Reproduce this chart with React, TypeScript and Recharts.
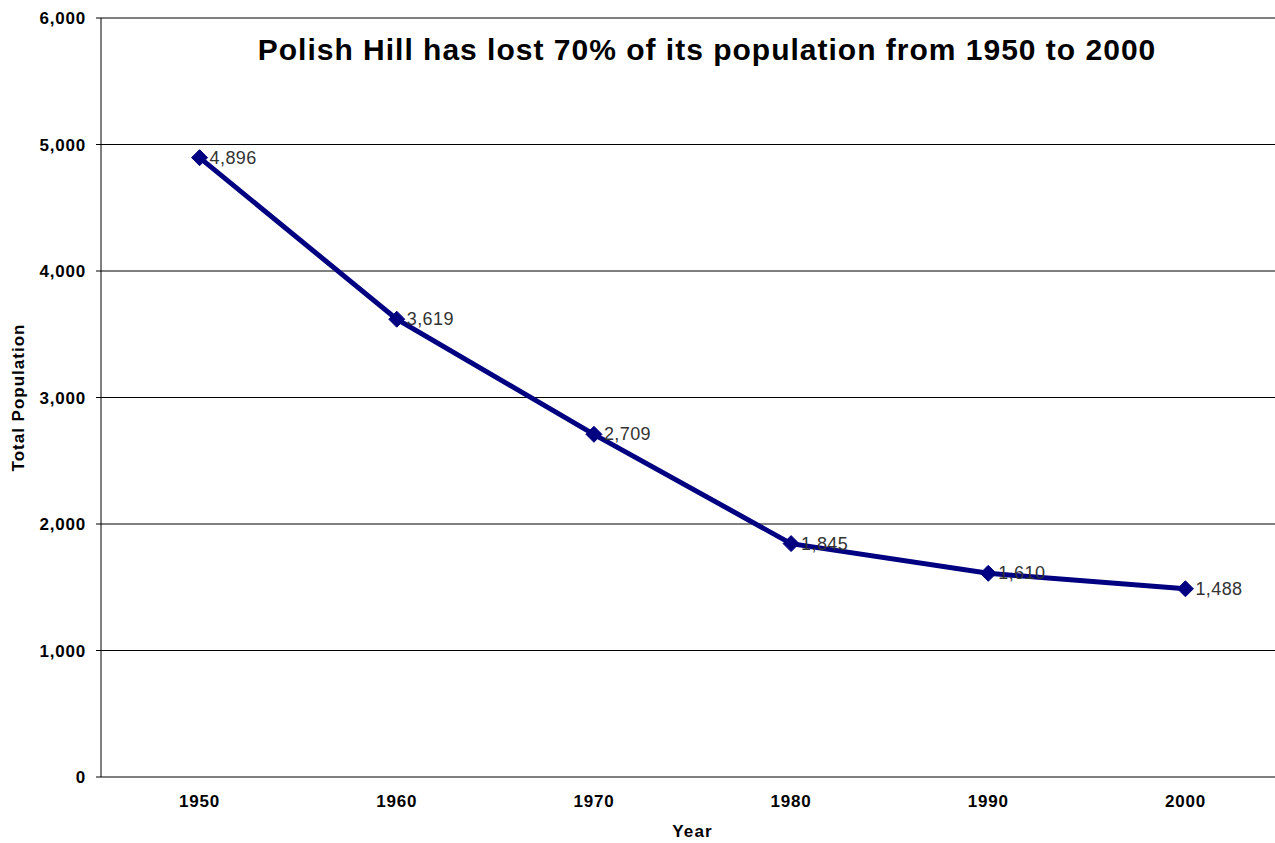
import React from 'react';
import {
  LineChart,
  Line,
  XAxis,
  YAxis,
  CartesianGrid,
  LabelList,
} from 'recharts';

const years = [1950, 1960, 1970, 1980, 1990, 2000];
const population = [4896, 3619, 2709, 1845, 1610, 1488];
const yTicks = [0, 1000, 2000, 3000, 4000, 5000, 6000];
const boundaryTicks = [1945, 1955, 1965, 1975, 1985, 1995, 2005];

const chartData = years.map((year, i) => ({ year, population: population[i] }));

const FONT = 'Arial, "Liberation Sans", sans-serif';
const NAVY = '#000080';

const axisTickStyle = {
  fontFamily: FONT,
  fontSize: 17,
  fontWeight: 'bold' as const,
  fill: '#000',
  letterSpacing: 0.8,
};

const Diamond = (props: any) => {
  const { cx, cy } = props;
  if (cx == null || cy == null) return null;
  const r = 8;
  return (
    <path
      key={`d-${cx}`}
      d={`M${cx},${cy - r} L${cx + r},${cy} L${cx},${cy + r} L${cx - r},${cy} Z`}
      fill={NAVY}
      stroke={NAVY}
    />
  );
};

const ValueLabel = (props: any) => {
  const { x, y, value } = props;
  return (
    <text
      x={x + 10}
      y={y}
      dominantBaseline="central"
      fontFamily={FONT}
      fontSize={18}
      letterSpacing={0.4}
      fill="#333"
    >
      {Number(value).toLocaleString('en-US')}
    </text>
  );
};

const YLabel = (props: any) => {
  const { viewBox } = props;
  const cy = viewBox.y + viewBox.height / 2;
  return (
    <text
      x={18}
      y={cy}
      transform={`rotate(-90, 18, ${cy})`}
      textAnchor="middle"
      dominantBaseline="central"
      fontFamily={FONT}
      fontSize={17}
      fontWeight="bold"
      letterSpacing={1}
      fill="#000"
    >
      Total Population
    </text>
  );
};

const XLabel = (props: any) => {
  const { viewBox } = props;
  const cx = viewBox.x + viewBox.width / 2;
  return (
    <text
      x={cx}
      y={831}
      textAnchor="middle"
      dominantBaseline="central"
      fontFamily={FONT}
      fontSize={17}
      fontWeight="bold"
      letterSpacing={1.2}
      fill="#000"
    >
      Year
    </text>
  );
};

export default function App() {
  return (
    <div
      style={{
        position: 'absolute',
        left: 0,
        top: 0,
        width: 1275,
        height: 843,
        overflow: 'hidden',
        background: '#fff',
      }}
    >
      <LineChart
        width={1300}
        height={843}
        data={chartData}
        margin={{ top: 18, right: 16, bottom: 0, left: 0 }}
      >
        <CartesianGrid
          vertical={false}
          stroke="#000"
          strokeWidth={1}
          xAxisId="grid"
        />
        <XAxis
          xAxisId="grid"
          type="number"
          dataKey="year"
          domain={[1945, 2005]}
          ticks={boundaryTicks}
          tickFormatter={() => ''}
          tickSize={5}
          height={0}
          stroke="#000"
          axisLine={{ stroke: '#000' }}
          tickLine={{ stroke: '#000' }}
        />
        <XAxis
          xAxisId="labels"
          type="number"
          dataKey="year"
          domain={[1945, 2005]}
          ticks={years}
          axisLine={false}
          tickLine={false}
          tickSize={0}
          tickMargin={18}
          height={66}
          tick={axisTickStyle}
          label={<XLabel />}
        />
        <YAxis
          type="number"
          domain={[0, 6000]}
          ticks={yTicks}
          width={101}
          tickSize={5}
          tickMargin={10}
          tickFormatter={(v: number) => v.toLocaleString('en-US')}
          tick={axisTickStyle}
          axisLine={{ stroke: '#000' }}
          tickLine={{ stroke: '#000' }}
          label={<YLabel />}
        />
        <Line
          xAxisId="grid"
          type="linear"
          dataKey="population"
          stroke={NAVY}
          strokeWidth={5}
          dot={<Diamond />}
          activeDot={false}
          isAnimationActive={false}
        >
          <LabelList dataKey="population" content={<ValueLabel />} />
        </Line>
      </LineChart>
      <div
        style={{
          position: 'absolute',
          left: 707,
          top: 33,
          transform: 'translateX(-50%)',
          whiteSpace: 'nowrap',
          fontFamily: FONT,
          fontWeight: 'bold',
          fontSize: 30,
          letterSpacing: 1,
          lineHeight: '34px',
          color: '#000',
        }}
      >
        Polish Hill has lost 70% of its population from 1950 to 2000
      </div>
    </div>
  );
}
